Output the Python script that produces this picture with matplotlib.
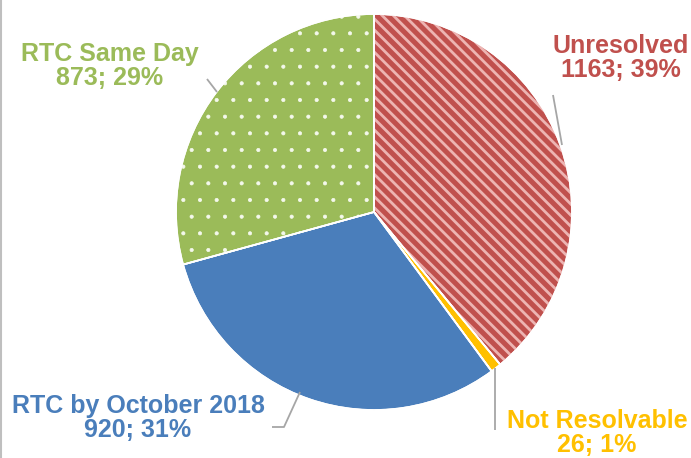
import matplotlib.pyplot as plt
import matplotlib.patches as mp

plt.rcParams['font.family'] = ['Liberation Sans', 'DejaVu Sans']
plt.rcParams['hatch.linewidth'] = 0.6

labels = ["Unresolved", "Not Resolvable", "RTC by October 2018", "RTC Same Day"]
values = [1163, 26, 920, 873]
colors = ["#C0504D", "#FFC000", "#4A7EBB", "#9BBB59"]
text_colors = ["#C0504D", "#FFC000", "#4A7EBB", "#9BBB59"]
hatches = ["\\\\\\", None, None, "."]
hatch_colors = ["#EDB4B2", None, None, "#F4F8EC"]
hatch_widths = [2.0, None, None, 0.5]

W, H = 691, 458
fig = plt.figure(figsize=(W / 100, H / 100), dpi=100)
ax = fig.add_axes([0, 0, 1, 1])

cx, cy, r = 374, H - 212, 198

wedges, _ = ax.pie(values, colors=colors, startangle=90, counterclock=False,
                   center=(cx, cy), radius=r, frame=True,
                   wedgeprops=dict(edgecolor='white', linewidth=1.2))
ax.set_xlim(0, W)
ax.set_ylim(0, H)
ax.set_aspect('auto')
ax.axis('off')

# pattern overlays
for w, h, hc, hw in zip(wedges, hatches, hatch_colors, hatch_widths):
    if h is None:
        continue
    ov = mp.Wedge(w.center, w.r, w.theta1, w.theta2, facecolor='none',
                  edgecolor=hc, linewidth=0, hatch=h, zorder=2)
    if hasattr(ov, 'set_hatch_linewidth'):
        ov.set_hatch_linewidth(hw)
    ax.add_patch(ov)

# thin white separators on top
for w in wedges:
    ax.add_patch(mp.Wedge(w.center, w.r, w.theta1, w.theta2, facecolor='none',
                          edgecolor='white', linewidth=1.2, zorder=3))

lc = "#A6A6A6"
# leader lines (pixel coords measured from top)
leaders = [
    [(553, 95), (562, 145)],
    [(495, 368), (495, 430)],
    [(300, 392), (284, 427), (272, 427)],
    [(207, 79), (217, 92)],
]
for pts in leaders:
    xs = [p[0] for p in pts]
    ys = [H - p[1] for p in pts]
    ax.plot(xs, ys, color=lc, lw=1.3, zorder=4, solid_capstyle='butt')

label_pos = [(621, 58), (597, 433), (138, 418), (110, 66)]
for lab, v, tc, (x, y) in zip(labels, values, text_colors, label_pos):
    pct = round(v / sum(values) * 100)
    ax.text(x, H - y, f"{lab}\n{v}; {pct}%", color=tc, fontsize=18,
            fontweight='bold', ha='center', va='center', linespacing=1.05)

# thin border at the left edge
ax.plot([1, 1], [0, H], color="#BFBFBF", lw=1.5)

fig.savefig("out.png", dpi=100)
